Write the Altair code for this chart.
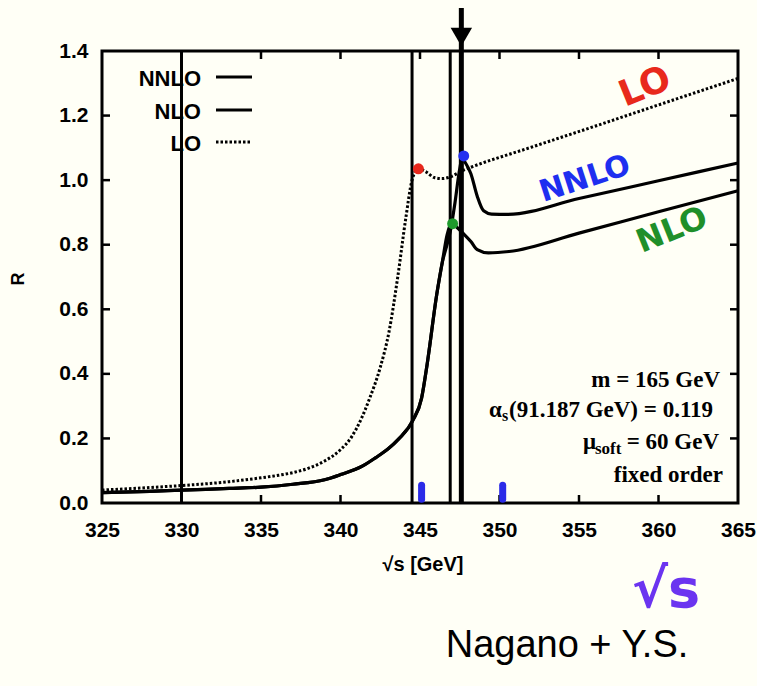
import altair as alt
import pandas as pd

# R(sqrt s) near the top-pair threshold, m = 165 GeV
# common rise of the NLO and NNLO curves below the resonance
below_sqrt_s = [325, 328, 330, 333, 335, 337, 339, 340, 341.4, 342.2, 343.0, 343.65,
                344.55, 345.1, 345.45, 346.05, 346.4]
below_r = [0.032, 0.036, 0.040, 0.045, 0.049, 0.058, 0.072, 0.088, 0.115, 0.140, 0.168,
           0.198, 0.256, 0.325, 0.43, 0.645, 0.745]

nlo_tail_sqrt_s = [346.7, 347.0, 347.3, 347.7, 348.2, 348.6, 349.3, 350.6, 355, 360, 365]
nlo_tail_r = [0.83, 0.868, 0.855, 0.836, 0.81, 0.785, 0.775, 0.779, 0.836, 0.902, 0.967]

nnlo_tail_sqrt_s = [346.7, 346.9, 347.2, 347.45, 347.65, 347.9, 348.2, 348.6, 349.0, 349.5,
                    350.5, 355, 360, 365]
nnlo_tail_r = [0.80, 0.84, 0.93, 1.02, 1.065, 1.05, 1.02, 0.95, 0.905, 0.895, 0.894,
               0.943, 0.998, 1.053]

lo_sqrt_s = [325, 328, 330, 333, 335, 336, 337, 338, 339, 340, 340.7, 341.3, 341.8, 342.5,
             343.05, 343.6, 344.1, 344.5, 344.9, 345.4, 345.9, 346.4, 347.0, 347.6, 348.0,
             352, 356, 360, 365]
lo_r = [0.040, 0.048, 0.054, 0.066, 0.078, 0.085, 0.094, 0.108, 0.130, 0.165, 0.205, 0.26,
        0.32, 0.42, 0.53, 0.70, 0.88, 1.00, 1.035, 1.025, 1.008, 1.005, 1.012, 1.028,
        1.036, 1.102, 1.167, 1.233, 1.315]

# resonance peaks marked by hand
peak_order = ["LO", "NLO", "NNLO"]
peak_sqrt_s = [344.9, 347.05, 347.75]
peak_r = [1.035, 0.865, 1.075]

# vertical guide lines at the peak positions
guide_lines = [330.0, 344.5, 346.9]
arrow_line = [347.6]
hand_ticks = [345.1, 350.2]

x_labels = [325, 330, 335, 340, 345, 350, 355, 360, 365]
y_labels = [0.0, 0.2, 0.4, 0.6, 0.8, 1.0, 1.2, 1.4]
x_inner_ticks = [330, 335, 340, 345, 350, 355, 360]
y_inner_ticks = [0.2, 0.4, 0.6, 0.8, 1.0, 1.2]

W, H = 636, 452
SANS = "Liberation Sans"
SERIF = "Liberation Serif"
HAND = "DejaVu Sans"

x_scale = alt.Scale(domain=[325, 365], nice=False, zero=False)
y_scale = alt.Scale(domain=[0, 1.4], nice=False, zero=False)

x_axis = alt.Axis(values=x_labels, format="d", title=None, ticks=False, tickSize=0,
                  domain=False, grid=False, labelFlush=False, labelOverlap=False,
                  labelPadding=16, labelFont=SANS, labelFontSize=21,
                  labelFontWeight="bold", labelColor="black")
y_axis = alt.Axis(values=y_labels, format=".1f", title=None, ticks=False, tickSize=0,
                  domain=False, grid=False, labelFlush=False, labelOverlap=False,
                  labelPadding=14, labelFont=SANS, labelFontSize=21,
                  labelFontWeight="bold", labelColor="black")


def xq(field):
    return alt.X(field, type="quantitative", scale=x_scale, axis=x_axis)


def yq(field):
    return alt.Y(field, type="quantitative", scale=y_scale, axis=y_axis)


def series(name, xs, rs):
    return pd.DataFrame({"sqrt_s": xs, "R": rs, "order": name})


curves = pd.concat([
    series("LO", lo_sqrt_s, lo_r),
    series("NLO", below_sqrt_s + nlo_tail_sqrt_s, below_r + nlo_tail_r),
    series("NNLO", below_sqrt_s + nnlo_tail_sqrt_s, below_r + nnlo_tail_r),
], ignore_index=True)

layers = []

# guide lines and the arrowed threshold line
layers.append(alt.Chart(pd.DataFrame({"sqrt_s": guide_lines}))
              .mark_rule(color="black", strokeWidth=3)
              .encode(x=xq("sqrt_s"), y=alt.value(0), y2=alt.value(H)))
layers.append(alt.Chart(pd.DataFrame({"sqrt_s": arrow_line}))
              .mark_rule(color="black", strokeWidth=5)
              .encode(x=xq("sqrt_s"), y=alt.value(-43), y2=alt.value(H)))
layers.append(alt.Chart(pd.DataFrame({"sqrt_s": arrow_line}))
              .mark_point(shape="triangle-down", filled=True, size=460, color="black",
                          opacity=1)
              .encode(x=xq("sqrt_s"), y=alt.value(-14)))

# inward ticks on all four sides
xt = pd.DataFrame({"sqrt_s": x_inner_ticks})
yt = pd.DataFrame({"R": y_inner_ticks})
layers.append(alt.Chart(xt).mark_rule(color="black", strokeWidth=2.5)
              .encode(x=xq("sqrt_s"), y=alt.value(H), y2=alt.value(H - 8)))
layers.append(alt.Chart(xt).mark_rule(color="black", strokeWidth=2.5)
              .encode(x=xq("sqrt_s"), y=alt.value(0), y2=alt.value(8)))
layers.append(alt.Chart(yt).mark_rule(color="black", strokeWidth=2.5)
              .encode(y=yq("R"), x=alt.value(0), x2=alt.value(8)))
layers.append(alt.Chart(yt).mark_rule(color="black", strokeWidth=2.5)
              .encode(y=yq("R"), x=alt.value(W), x2=alt.value(W - 8)))

# curves
layers.append(alt.Chart(curves).transform_filter(alt.datum.order == "LO")
              .mark_line(color="black", strokeWidth=3, strokeDash=[2.5, 2],
                         interpolate="monotone")
              .encode(x=xq("sqrt_s"), y=yq("R")))
for name in ["NLO", "NNLO"]:
    layers.append(alt.Chart(curves).transform_filter(alt.datum.order == name)
                  .mark_line(color="black", strokeWidth=3.2, interpolate="monotone")
                  .encode(x=xq("sqrt_s"), y=yq("R")))

# hand-drawn peak dots
peaks = pd.DataFrame({"order": peak_order, "sqrt_s": peak_sqrt_s, "R": peak_r})
layers.append(alt.Chart(peaks)
              .mark_point(filled=True, size=120, opacity=1, shape="circle")
              .encode(x=xq("sqrt_s"), y=yq("R"),
                      color=alt.Color("order:N", legend=None,
                                      scale=alt.Scale(domain=["LO", "NLO", "NNLO"],
                                                      range=["#e8281c", "#1e9a2c",
                                                             "#2430f0"]))))

# blue pen marks on the energy axis
layers.append(alt.Chart(pd.DataFrame({"sqrt_s": hand_ticks}))
              .mark_rule(color="#2b2be8", strokeWidth=7, strokeCap="round")
              .encode(x=xq("sqrt_s"), y=alt.datum(0.012), y2=alt.datum(0.055)))


def label(text, x, y, **kw):
    return (alt.Chart(pd.DataFrame({"t": [text]}))
            .mark_text(**kw)
            .encode(x=alt.value(x), y=alt.value(y), text="t:N"))


# key
key_rows = [("NNLO", 28, None), ("NLO", 61, None), ("LO", 93, [2.5, 2])]
for text, ky, dash in key_rows:
    layers.append(label(text, 99, ky, align="right", baseline="middle", font=SANS,
                        fontSize=22, fontWeight="bold", color="black"))
    rule_kw = dict(color="black", strokeWidth=3)
    if dash:
        rule_kw["strokeDash"] = dash
    layers.append(alt.Chart(pd.DataFrame({"t": [text]})).mark_rule(**rule_kw)
                  .encode(x=alt.value(114), x2=alt.value(150), y=alt.value(ky - 2)))

# parameter box
pkw = dict(baseline="middle", font=SERIF, fontWeight="bold", color="black")
layers.append(label("m = 165 GeV", 618, 329, align="right", fontSize=23, **pkw))
layers.append(label("α", 387, 359, align="left", fontSize=23, **pkw))
layers.append(label("s", 400, 365, align="left", fontSize=16, **pkw))
layers.append(label("(91.187 GeV) = 0.119", 407, 359, align="left", fontSize=23, **pkw))
layers.append(label("μ", 481, 391, align="left", fontSize=23, **pkw))
layers.append(label("soft", 493, 398, align="left", fontSize=17, **pkw))
layers.append(label("= 60 GeV", 617, 391, align="right", fontSize=23, **pkw))
layers.append(label("fixed order", 621, 424, align="right", fontSize=23, **pkw))

# axis titles
layers.append(label("√s [GeV]", 321, 514, align="center", baseline="middle", font=SANS,
                    fontSize=20, fontWeight="bold", color="black"))
layers.append(label("R", -83, 228, align="center", baseline="middle", font=SANS,
                    fontSize=18, fontWeight="bold", color="black", angle=270))

# handwritten notes
layers.append(label("LO", 543, 36, align="center", baseline="middle", font=HAND,
                    fontSize=36, fontWeight="bold", color="#e8291c", angle=338))
layers.append(label("NNLO", 483, 128, align="center", baseline="middle", font=HAND,
                    fontSize=30, fontWeight="bold", color="#1e2ff0", angle=342))
layers.append(label("NLO", 570, 179, align="center", baseline="middle", font=HAND,
                    fontSize=32, fontWeight="bold", color="#1f8f2a", angle=338))
layers.append(label("√s", 564, 540, align="center", baseline="middle", font=HAND,
                    fontSize=54, fontWeight="bold", color="#6b34f0"))
layers.append(label("Nagano + Y.S.", 465, 595, align="center", baseline="middle",
                    font=SANS, fontSize=38, color="black"))

chart = (alt.layer(*layers)
         .properties(width=W, height=H,
                     padding={"left": 102, "top": 51, "right": 19, "bottom": 183},
                     autosize=alt.AutoSizeParams(type="none"))
         .configure(background="#fffff6")
         .configure_view(stroke="black", strokeWidth=3))

chart.save("out.html", embed_options={"renderer": "svg", "actions": False})
